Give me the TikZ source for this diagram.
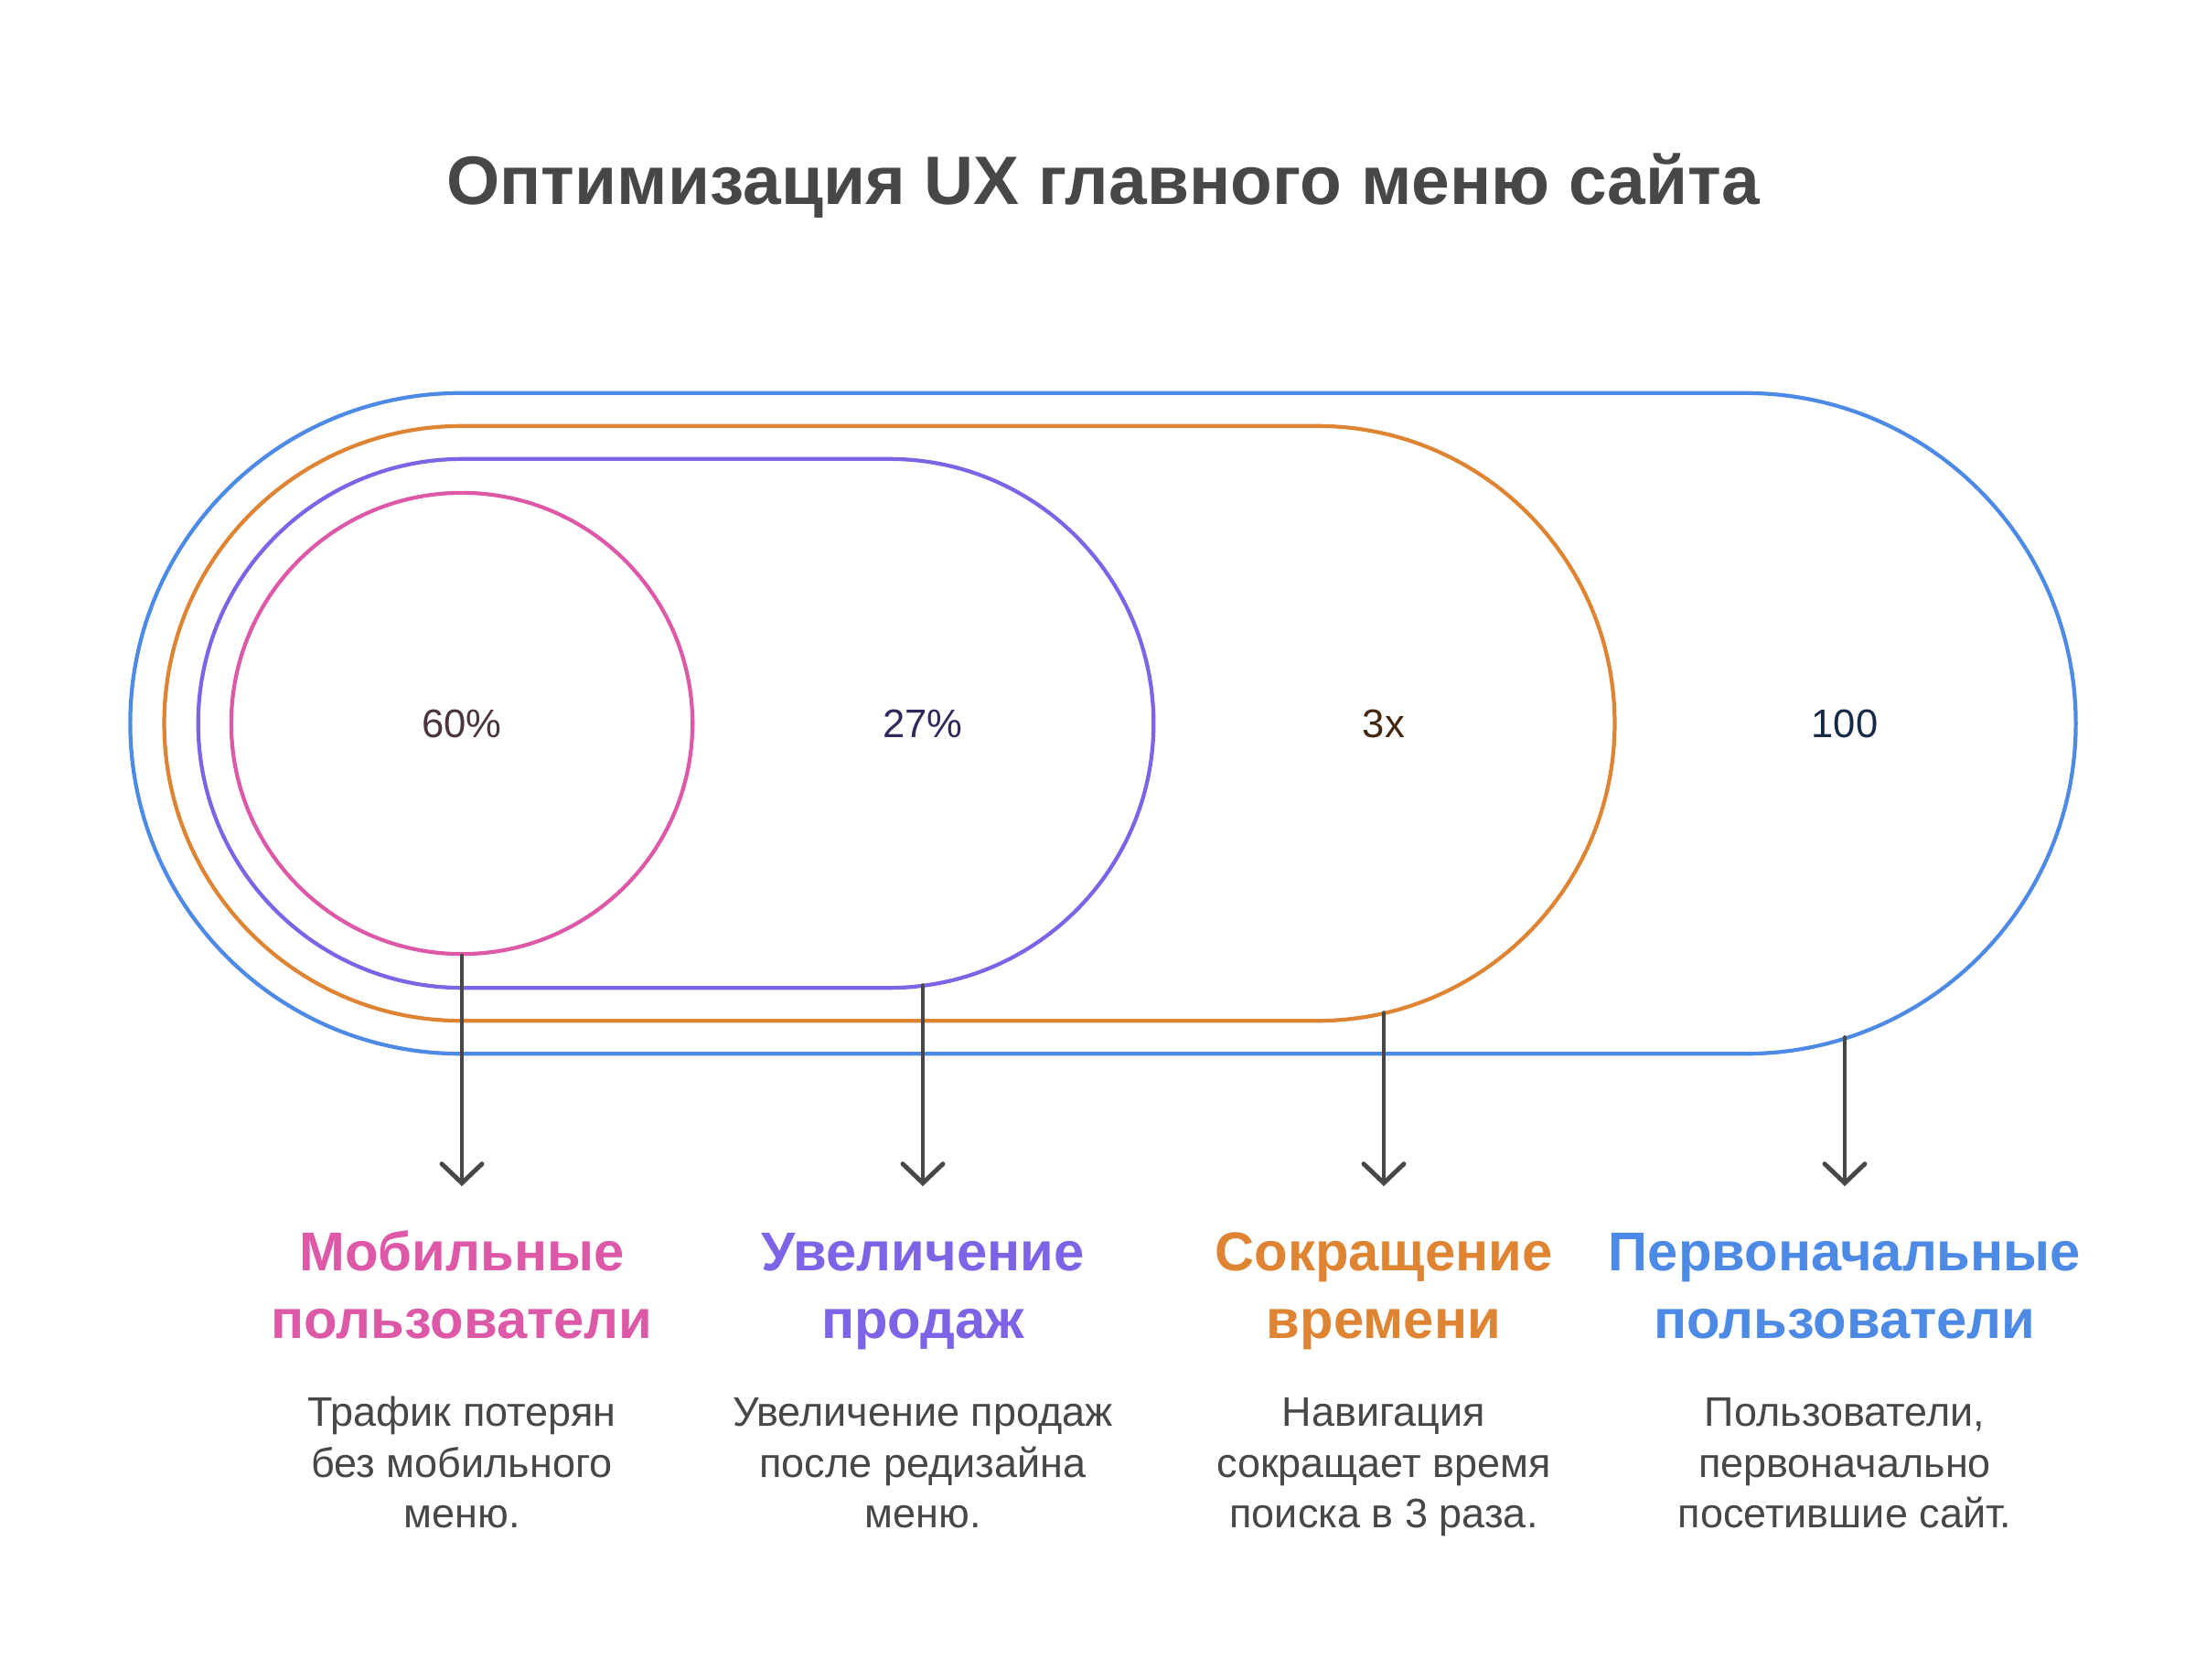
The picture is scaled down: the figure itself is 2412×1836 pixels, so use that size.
\documentclass[tikz,border=0pt]{standalone}
\usepackage{fontspec}
\setmainfont{Liberation Sans}
\usepackage{xcolor}
\usetikzlibrary{shapes.misc, arrows.meta, positioning}
\definecolor{mobc}{HTML}{DD59A8}
\definecolor{salec}{HTML}{7D63E6}
\definecolor{timec}{HTML}{DF8432}
\definecolor{firstc}{HTML}{4D8AE6}
\definecolor{inkgray}{HTML}{474747}
\definecolor{mobdark}{HTML}{4A3440}
\tikzset{
  pill/.style={rounded rectangle, draw=#1, line width=1.2pt, inner sep=0pt},
  stat/.style={font=\fontsize{12.4}{14}\selectfont, text=#1},
  head/.style={align=center, anchor=north, inner sep=0pt, font=\fontsize{17}{20.8}\selectfont\bfseries, text=#1},
  desc/.style={align=center, anchor=north, inner sep=0pt, font=\fontsize{12.8}{15.8}\selectfont, text=inkgray},
  arr/.style={-{Straight Barb[length=2.1mm, width=4.4mm, line cap=round]}, line width=1.4pt, inkgray, line cap=round},
}

\begin{document}
\begin{tikzpicture}[x=0.01cm, y=0.01cm]
\useasboundingbox (0,0) rectangle (2412,-1836);
\node[font=\fontsize{21.3}{25}\selectfont\bfseries, text=inkgray] (title) at (1206,-203) {Оптимизация UX главного меню сайта};
% nested shapes
\node[pill=firstc, minimum width=21.26cm, minimum height=7.22cm] (first) at (1206,-791) {};
\node[pill=timec, minimum width=15.85cm, minimum height=6.50cm] (time) at (972.5,-791) {};
\node[pill=salec, minimum width=10.44cm, minimum height=5.78cm] (sale) at (739,-791) {};
\node[circle, draw=mobc, line width=1.2pt, inner sep=0pt, minimum size=5.04cm] (mob) at (505,-791) {};
% values
\node[stat=mobdark] (v1) at (505,-791) {60\%};
\node[stat=salec!40!black] (v2) at (1009,-791) {27\%};
\node[stat=timec!30!black] (v3) at (1513,-791) {3x};
\node[stat=firstc!30!black] (v4) at (2017,-791) {100};
% arrow ends
\coordinate (s1) at (mob.south);
\coordinate (s2) at (1009,-1077.6);
\coordinate (s3) at (1513,-1107.7);
\coordinate (s4) at (2017,-1134.5);
\coordinate (t1) at (505,-1297);
\coordinate (t2) at (1009,-1297);
\coordinate (t3) at (1513,-1297);
\coordinate (t4) at (2017,-1297);
\draw[arr] (s1) -- (t1);
\draw[arr] (s2) -- (t2);
\draw[arr] (s3) -- (t3);
\draw[arr] (s4) -- (t4);
% labels
\node[head=mobc] (h1) at (505,-1338) {\strut Мобильные\\пользователи};
\node[head=salec] (h2) at (1009,-1338) {\strut Увеличение\\продаж};
\node[head=timec] (h3) at (1513,-1338) {\strut Сокращение\\времени};
\node[head=firstc] (h4) at (2017,-1338) {\strut Первоначальные\\пользователи};
\node[desc] (d1) at (505,-1520) {\strut Трафик потерян\\без мобильного\\меню.};
\node[desc] (d2) at (1009,-1520) {\strut Увеличение продаж\\после редизайна\\меню.};
\node[desc] (d3) at (1513,-1520) {\strut Навигация\\сокращает время\\поиска в 3 раза.};
\node[desc] (d4) at (2017,-1520) {\strut Пользователи,\\первоначально\\посетившие сайт.};
\end{tikzpicture}
\end{document}
